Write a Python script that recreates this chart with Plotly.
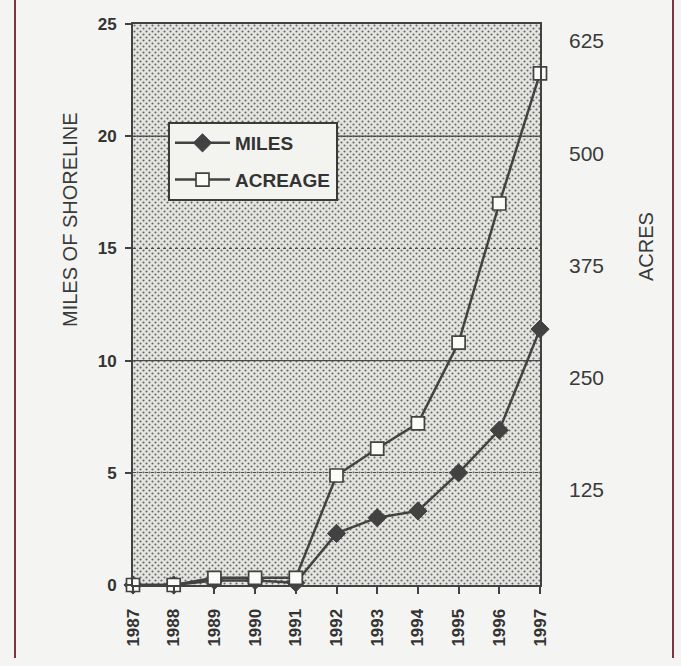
import base64
import plotly.graph_objects as go

# ---- data ----
years = [1987, 1988, 1989, 1990, 1991, 1992, 1993, 1994, 1995, 1996, 1997]
miles = [0, 0, 0.2, 0.2, 0.1, 2.3, 3.0, 3.3, 5.0, 6.9, 11.4]
acreage = [0, 0, 8, 8, 8, 122, 152, 180, 270, 425, 570]
miles_ticks = [0, 5, 10, 15, 20, 25]
acre_ticks = [125, 250, 375, 500, 625]
solid_grid = [10, 20]

W, H = 681, 666
ML, MR, MT, MB = 133, 141, 24, 81
PW, PH = W - ML - MR, H - MT - MB

INK = "#424242"
TXT = "#333333"
FONT = "Liberation Sans, Arial, sans-serif"


def px_x(p):
    return (p - ML) / PW


def px_y(p):
    return (MT + PH - p) / PH


# stippled plot-area background (halftone look)
svg = (
    f'<svg xmlns="http://www.w3.org/2000/svg" width="{PW}" height="{PH}">'
    '<defs><pattern id="p" width="6" height="6" patternUnits="userSpaceOnUse">'
    '<rect width="6" height="6" fill="#e4e4e0"/>'
    '<circle cx="1.5" cy="1.5" r="1.05" fill="#656565"/>'
    '<circle cx="4.5" cy="4.5" r="1.05" fill="#656565"/>'
    '</pattern></defs>'
    f'<rect width="{PW}" height="{PH}" fill="url(#p)"/></svg>'
)
bg_src = "data:image/svg+xml;base64," + base64.b64encode(svg.encode()).decode()

fig = go.Figure()
fig.add_trace(go.Scatter(
    x=years, y=miles, name="MILES", mode="lines+markers",
    line=dict(color=INK, width=2.5),
    marker=dict(symbol="diamond", size=14, color=INK, line=dict(color=INK, width=1)),
    cliponaxis=False, legendgroup="a",
))
fig.add_trace(go.Scatter(
    x=years, y=acreage, name="ACREAGE", mode="lines+markers", yaxis="y2",
    line=dict(color=INK, width=2.5),
    marker=dict(symbol="square", size=13, color="#fbfbf8", line=dict(color=INK, width=1.7)),
    cliponaxis=False, legendgroup="b",
))

shapes = []
for g in solid_grid:
    shapes.append(dict(type="line", xref="paper", x0=0, x1=1, yref="y", y0=g, y1=g,
                       line=dict(color="#4a4a4a", width=1.2), layer="below"))
# page frame (dark red rule left and right)
for fx in (px_x(15), px_x(673)):
    shapes.append(dict(type="line", xref="paper", yref="paper", x0=fx, x1=fx,
                       y0=px_y(658), y1=px_y(-5),
                       line=dict(color="#7d3440", width=2)))

fig.update_layout(
    width=W, height=H,
    margin=dict(l=ML, r=MR, t=MT, b=MB),
    paper_bgcolor="#f4f5f2",
    plot_bgcolor="#e4e4e0",
    font=dict(family=FONT, color=TXT),
    images=[dict(source=bg_src, xref="paper", yref="paper", x=0, y=1, sizex=1, sizey=1,
                 xanchor="left", yanchor="top", sizing="stretch", layer="below")],
    shapes=shapes,
    xaxis=dict(
        range=[years[0], years[-1]], tickvals=years, ticktext=[str(y) for y in years],
        tickangle=-90, ticks="outside", ticklen=7, tickwidth=1.5, tickcolor=INK,
        showgrid=False, zeroline=False, showline=True, linecolor=INK, linewidth=2, mirror=True,
        tickfont=dict(family=FONT, size=17, weight="bold", color=TXT), ticklabelstandoff=8,
    ),
    yaxis=dict(
        range=[0, 25], tickvals=miles_ticks, ticks="outside", ticklen=6, tickwidth=1.5, tickcolor=INK,
        showgrid=True, gridcolor="#4a4a4a", gridwidth=1.2, griddash="dot",
        zeroline=False, showline=True, linecolor=INK, linewidth=2, mirror=True,
        tickfont=dict(family=FONT, size=17, weight="bold", color=TXT), ticklabelstandoff=5,
    ),
    yaxis2=dict(
        range=[0, 625], tickvals=acre_ticks, overlaying="y", side="right",
        showgrid=False, zeroline=False, showline=False, ticks="",
        tickfont=dict(family=FONT, size=21, color="#3a3a3a"),
        ticklabelshift=17, ticklabelstandoff=28,
    ),
    legend=dict(
        x=px_x(168), y=px_y(122), xanchor="left", yanchor="top",
        bgcolor="#f3f3f0", bordercolor="#3a3a3a", borderwidth=2,
        font=dict(family=FONT, size=19, weight="bold", color=TXT),
        itemwidth=55, tracegroupgap=9,
    ),
    showlegend=True,
    annotations=[
        dict(text="MILES OF SHORELINE", xref="paper", yref="paper",
             x=px_x(70), y=px_y(220), xanchor="center", yanchor="middle",
             textangle=-90, showarrow=False,
             font=dict(family=FONT, size=20, color="#3a3a3a")),
        dict(text="ACRES", xref="paper", yref="paper",
             x=px_x(646), y=px_y(247), xanchor="center", yanchor="middle",
             textangle=-90, showarrow=False,
             font=dict(family=FONT, size=20, color="#3a3a3a")),
    ],
)

fig.write_html("out.html", config={"displayModeBar": False},
               post_script="document.body.style.margin='0px';")
